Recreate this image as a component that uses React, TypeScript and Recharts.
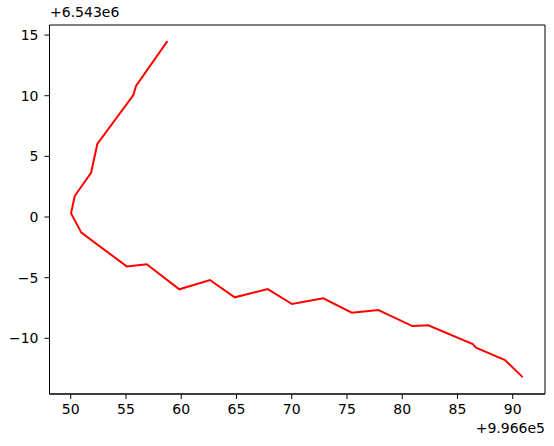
import { Line, LineChart, ReferenceArea, XAxis, YAxis } from "recharts"

// values relative to the axis offsets (+9.966e5 / +6.543e6)
const xOffsetLabel = "+9.966e5"
const yOffsetLabel = "+6.543e6"

const xValues = [
  58.75, 55.91, 55.67, 52.41, 51.84, 50.36, 50.03, 50.96, 55.07, 56.88, 59.83, 62.6,
  64.84, 67.83, 70.02, 72.86, 75.43, 77.84, 80.92, 82.36, 86.38, 86.68, 89.3, 90.9,
]
const yValues = [
  14.5, 10.8, 10.06, 6.02, 3.65, 1.73, 0.3, -1.29, -4.07, -3.9, -5.96, -5.19,
  -6.62, -5.94, -7.17, -6.7, -7.89, -7.67, -8.99, -8.93, -10.47, -10.77, -11.79, -13.2,
]

const xTicks = [50, 55, 60, 65, 70, 75, 80, 85, 90]
const yTicks = [-10, -5, 0, 5, 10, 15]
const xDomain = [48.08, 92.92]
const yDomain = [-14.59, 15.83]

const data = xValues.map((x, i) => ({ x, y: yValues[i] }))

const font = "'DejaVu Sans', sans-serif"
const tickStyle = { fontSize: 14, fill: "#000", fontFamily: font }
const minus = (v: number) => String(v).replace("-", "\u2212")

export default function App() {
  return (
    <div style={{ position: "absolute", left: 0, top: 0, width: 554, height: 446, background: "#fff" }}>
      <LineChart
        width={554}
        height={446}
        data={data}
        margin={{ top: 25, right: 9, left: 0, bottom: 0 }}
      >
        <XAxis
          dataKey="x"
          type="number"
          domain={xDomain}
          ticks={xTicks}
          allowDataOverflow
          height={52}
          tickSize={5}
          tickMargin={5}
          stroke="#000"
          tick={tickStyle}
        />
        <YAxis
          dataKey="y"
          type="number"
          domain={yDomain}
          ticks={yTicks}
          allowDataOverflow
          width={49.5}
          tickSize={5}
          tickMargin={6}
          stroke="#000"
          tick={tickStyle}
          tickFormatter={minus}
        />
        {/* frame around the plot area */}
        <ReferenceArea
          x1={xDomain[0]}
          x2={xDomain[1]}
          y1={yDomain[0]}
          y2={yDomain[1]}
          fill="none"
          stroke="#000"
          strokeWidth={1}
          ifOverflow="visible"
        />
        <Line
          type="linear"
          dataKey="y"
          stroke="#ff0000"
          strokeWidth={2}
          dot={false}
          activeDot={false}
          isAnimationActive={false}
        />
      </LineChart>
      <div style={{ position: "absolute", left: 50, top: 4, fontFamily: font, fontSize: 14 }}>
        {yOffsetLabel}
      </div>
      <div style={{ position: "absolute", right: 9, top: 420, fontFamily: font, fontSize: 14 }}>
        {xOffsetLabel}
      </div>
    </div>
  )
}
